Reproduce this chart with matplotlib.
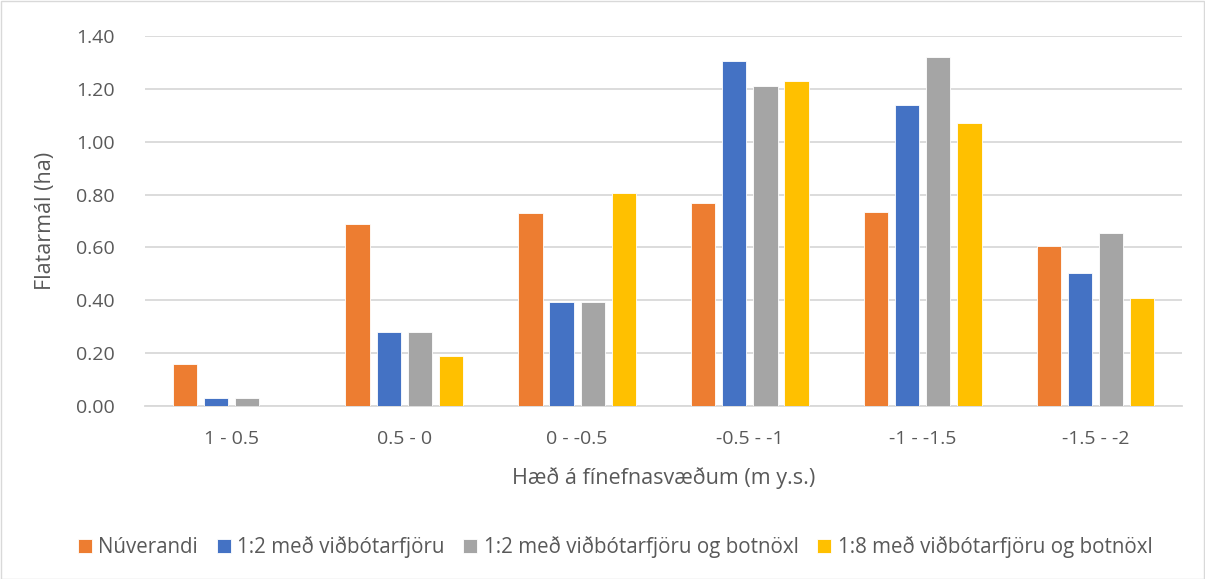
import matplotlib
matplotlib.use("Agg")
import matplotlib.pyplot as plt
import numpy as np
from matplotlib.patches import Rectangle
from matplotlib import font_manager

categories = ["1 - 0.5", "0.5 - 0", "0 - -0.5", "-0.5 - -1", "-1 - -1.5", "-1.5 - -2"]
series_names = ["Núverandi", "1:2 með viðbótarfjöru", "1:2 með viðbótarfjöru og botnöxl",
                "1:8 með viðbótarfjöru og botnöxl"]
nuverandi = [0.16, 0.69, 0.73, 0.77, 0.735, 0.605]
s12 = [0.03, 0.28, 0.395, 1.305, 1.14, 0.505]
s12_botn = [0.03, 0.28, 0.395, 1.21, 1.32, 0.655]
s18_botn = [0.0, 0.19, 0.805, 1.23, 1.07, 0.41]
colors = ["#ED7D31", "#4472C4", "#A5A5A5", "#FFC000"]
yticks = [0.0, 0.2, 0.4, 0.6, 0.8, 1.0, 1.2, 1.4]

avail = {f.name for f in font_manager.fontManager.ttflist}
fam = [f for f in ["Liberation Sans Narrow", "Open Sans", "DejaVu Sans"] if f in avail]
plt.rcParams['font.family'] = fam

txt = "#595959"
fig = plt.figure(figsize=(12.05, 5.79), dpi=100)
ax = fig.add_axes([145/1205, 1 - 406/579, (1182-145)/1205, (406-36)/579])

x = np.arange(len(categories))
data = [nuverandi, s12, s12_botn, s18_botn]
step = 0.18
w = 0.14
for i, (vals, c, n) in enumerate(zip(data, colors, series_names)):
    ax.bar(x + (i - 1.5) * step, vals, width=w, color=c, label=n,
           edgecolor="white", linewidth=0.6, zorder=3)

ax.set_xlim(-0.5, len(categories) - 0.5)
ax.set_ylim(0, 1.4)
ax.set_yticks(yticks)
ax.set_yticklabels([f"{v:.2f}" for v in yticks], fontsize=14, color=txt)
ax.set_xticks(x)
ax.set_xticklabels(categories, fontsize=14, color=txt)
ax.tick_params(axis='both', length=0)
ax.tick_params(axis='y', pad=22)
ax.tick_params(axis='x', pad=17)
ax.grid(axis='y', color="#D9D9D9", linewidth=1.3, zorder=0)
for s in ["top", "right", "left"]:
    ax.spines[s].set_visible(False)
ax.spines["bottom"].set_color("#D9D9D9")
ax.spines["bottom"].set_linewidth(1.3)

ax.set_ylabel("Flatarmál (ha)", fontsize=15.5, color=txt, labelpad=14)
ax.set_xlabel("Hæð á fínefnasvæðum (m y.s.)", fontsize=15.5, color=txt, labelpad=14)

leg = fig.legend(loc="center", bbox_to_anchor=(615/1205, 1 - 547/579), ncol=4,
                 frameon=False, fontsize=14.8, handlelength=0.7, handleheight=0.7,
                 handletextpad=0.3, columnspacing=0.9)
for t in leg.get_texts():
    t.set_color(txt)

fig.patches.append(Rectangle((0.5/1205, 0.5/579), 1 - 1.5/1205, 1 - 1.5/579,
                             transform=fig.transFigure, fill=False,
                             edgecolor="#D9D9D9", linewidth=1))
fig.savefig("out.png", dpi=100)
